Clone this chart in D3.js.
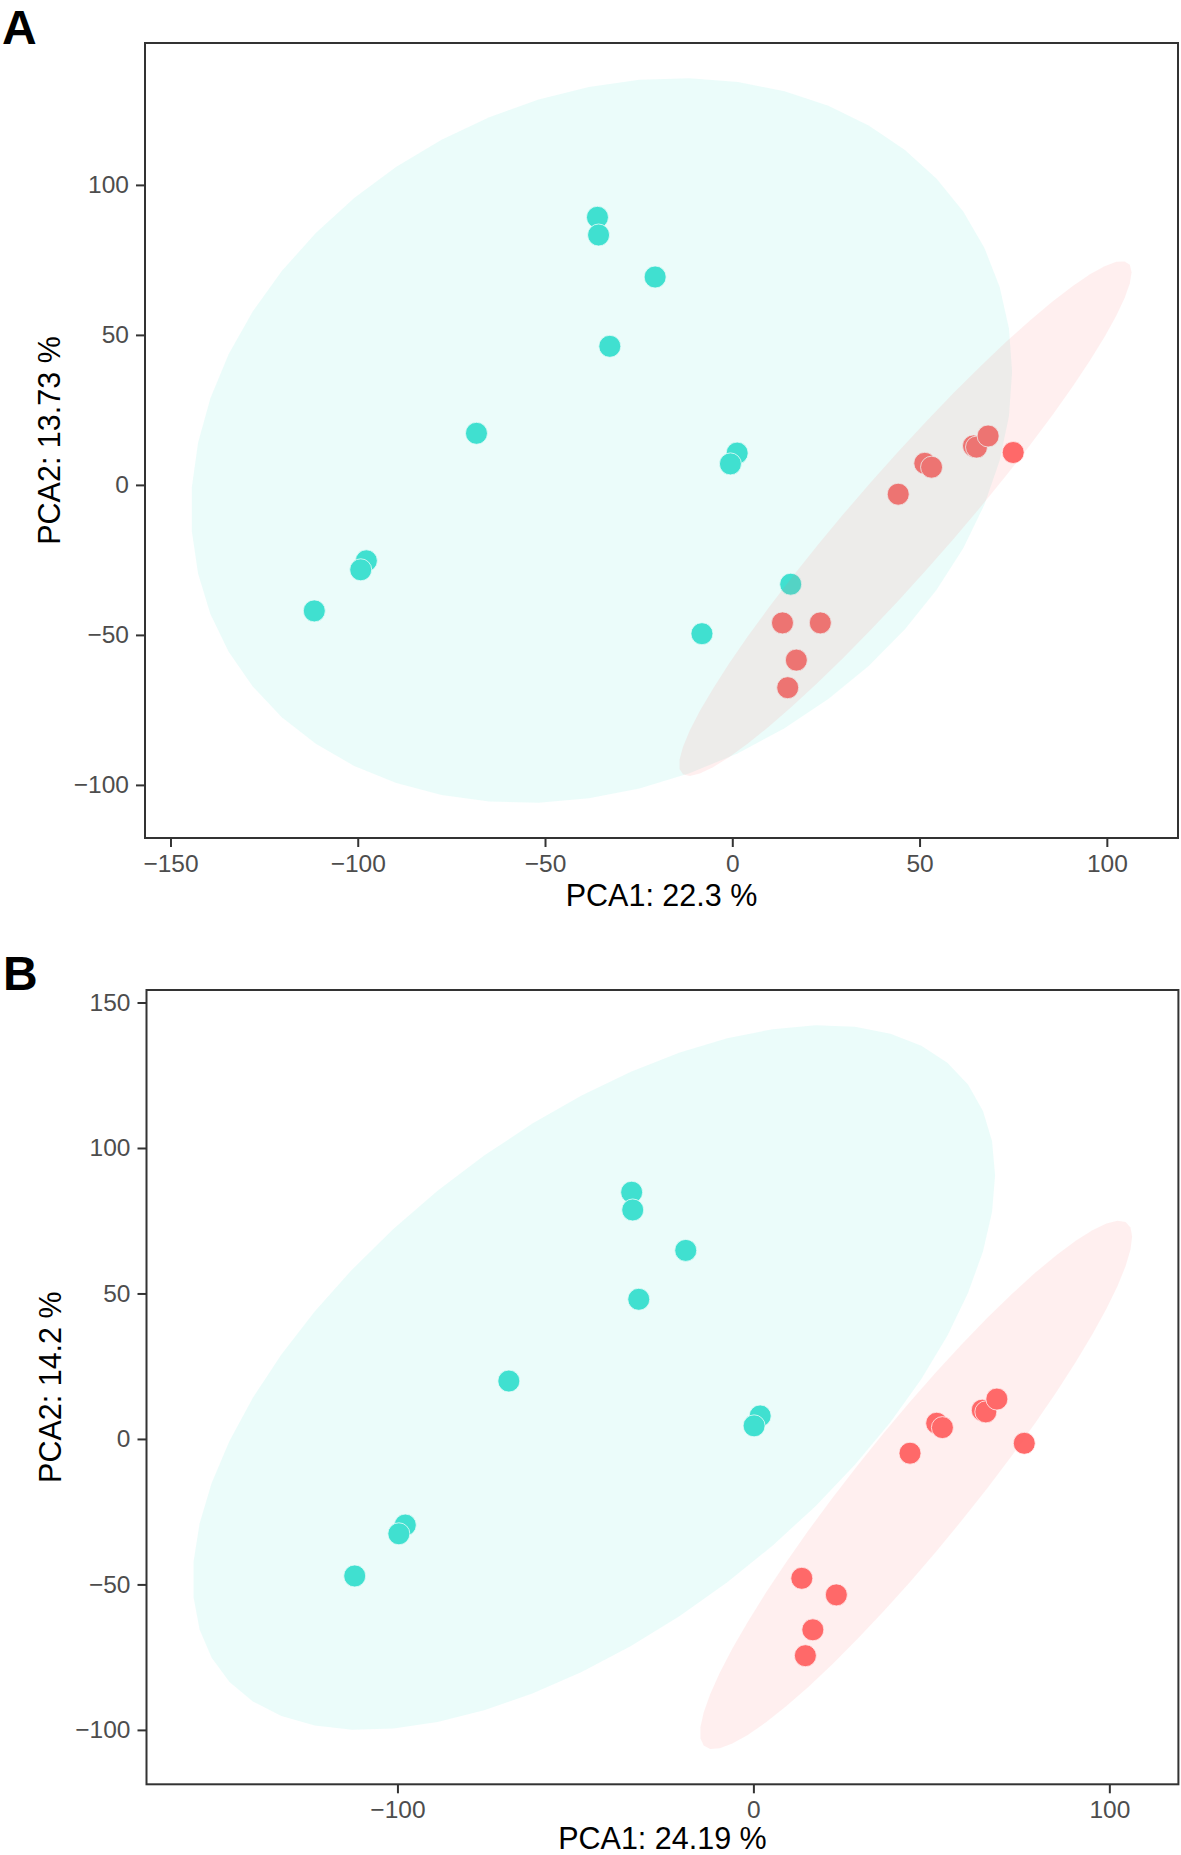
<!DOCTYPE html>
<html>
<head>
<meta charset="utf-8">
<script src="https://cdn.jsdelivr.net/npm/d3@7"></script>
<style>
  html, body { margin: 0; padding: 0; background: #ffffff; }
  svg { display: block; font-family: "Liberation Sans", Arial, Helvetica, sans-serif; }
</style>
</head>
<body>
<svg id="chart" width="1181" height="1855"></svg>
<script>
// ---------------- DATA ----------------
const panelLabels = ["A", "B"];
const groups = ["cyan", "red"];
const groupColors = ["#40E0D0", "#FF6A6A"];

// Panel A
const xTitleA = "PCA1: 22.3 %";
const yTitleA = "PCA2: 13.73 %";
const xTicksA = [-150, -100, -50, 0, 50, 100];
const yTicksA = [-100, -50, 0, 50, 100];
const xDomainA = [-156.8, 119.0];
const yDomainA = [-117.7, 147.3];
const cyanAx = [-36.0, -35.7, -20.6, -32.7, -68.3, -97.7, -99.2, -111.6, 1.3, -0.5, 15.6, -8.1];
const cyanAy = [89.2, 83.3, 69.3, 46.2, 17.2, -25.3, -28.3, -42.0, 10.6, 7.0, -33.1, -49.6];
const redAx = [44.3, 51.4, 53.2, 64.4, 65.2, 68.3, 75.0, 13.4, 23.5, 17.1, 14.8];
const redAy = [-3.1, 7.2, 5.9, 13.0, 12.6, 16.3, 10.8, -46.0, -46.0, -58.4, -67.6];
// ellipse: [centerX, centerY, halfWidthX, halfHeightY, correlation]
const ellipseCyanA = [-34.9, 14.8, 109.6, 120.8, 0.19];
const ellipseRedA = [46.2, -11.2, 60.4, 85.8, 0.957];

// Panel B
const xTitleB = "PCA1: 24.19 %";
const yTitleB = "PCA2: 14.2 %";
const xTicksB = [-100, 0, 100];
const yTicksB = [-100, -50, 0, 50, 100, 150];
const xDomainB = [-170.5, 119.4];
const yDomainB = [-118.7, 154.3];
const cyanBx = [-34.2, -33.9, -19.0, -32.2, -68.7, -97.8, -99.6, -112.0, 1.9, 0.2];
const cyanBy = [84.8, 78.7, 64.8, 48.0, 19.9, -29.6, -32.6, -47.1, 7.9, 4.5];
const redBx = [44.0, 51.5, 53.1, 64.3, 65.3, 68.4, 76.1, 13.6, 23.3, 16.7, 14.6];
const redBy = [-4.9, 5.4, 3.9, 9.9, 9.3, 13.7, -1.5, -47.9, -53.6, -65.6, -74.5];
const ellipseCyanB = [-44.8, 21.1, 112.7, 121.1, 0.5745];
const ellipseRedB = [45.7, -15.8, 60.7, 90.8, 0.94];

// ---------------- DRAW ----------------
const svg = d3.select("#chart");
const FONT_TICK = 24.5, FONT_TITLE = 30.5, FONT_LABEL = 48;

function ellipsePoints(e, n) {
  const [cx, cy, sx, sy, r] = e;
  const s = Math.sqrt(1 - r * r);
  return d3.range(n + 1).map(i => {
    const t = 2 * Math.PI * i / n;
    return [cx + sx * Math.cos(t), cy + sy * (r * Math.cos(t) + s * Math.sin(t))];
  });
}

function drawPanel(cfg, idx) {
  const { left, right, top, bottom } = cfg.box;
  const x = d3.scaleLinear().domain(cfg.xDomain).range([left, right]);
  const y = d3.scaleLinear().domain(cfg.yDomain).range([bottom, top]);
  const g = svg.append("g");

  const clipId = "clip" + idx;
  g.append("clipPath").attr("id", clipId)
    .append("rect").attr("x", left).attr("y", top)
    .attr("width", right - left).attr("height", bottom - top);

  const plot = g.append("g").attr("clip-path", `url(#${clipId})`);

  // points
  const series = [
    { xs: cfg.cyanX, ys: cfg.cyanY, color: groupColors[0] },
    { xs: cfg.redX, ys: cfg.redY, color: groupColors[1] }
  ];
  series.forEach(s => {
    plot.append("g").selectAll("circle")
      .data(s.xs.map((v, i) => [v, s.ys[i]]))
      .join("circle")
      .attr("cx", d => x(d[0]))
      .attr("cy", d => y(d[1]))
      .attr("r", 11)
      .attr("fill", s.color)
      .attr("stroke", "#ffffff")
      .attr("stroke-width", 0.8);
  });

  // ellipses (drawn over the points, translucent)
  const line = d3.line().x(d => x(d[0])).y(d => y(d[1]));
  [cfg.ellipseCyan, cfg.ellipseRed].forEach((e, i) => {
    plot.append("path")
      .attr("d", line(ellipsePoints(e, 51)) + "Z")
      .attr("fill", groupColors[i])
      .attr("fill-opacity", 0.105)
      .attr("stroke", "none");
  });

  // axes
  const xAxis = d3.axisBottom(x).tickValues(cfg.xTicks).tickSize(9).tickPadding(7.6)
    .tickFormat(d3.format("d"));
  const yAxis = d3.axisLeft(y).tickValues(cfg.yTicks).tickSize(9).tickPadding(7)
    .tickFormat(d3.format("d"));

  const gx = g.append("g").attr("transform", `translate(0,${bottom})`).call(xAxis);
  const gy = g.append("g").attr("transform", `translate(${left},0)`).call(yAxis);
  [gx, gy].forEach(a => {
    a.select(".domain").remove();
    a.selectAll(".tick line").attr("stroke", "#333333").attr("stroke-width", 2);
    a.selectAll(".tick text")
      .attr("fill", "#4D4D4D")
      .style("font-size", FONT_TICK + "px")
      .style("font-family", '"Liberation Sans", Arial, Helvetica, sans-serif');
  });

  // panel border
  g.append("rect")
    .attr("x", left).attr("y", top)
    .attr("width", right - left).attr("height", bottom - top)
    .attr("fill", "none").attr("stroke", "#333333").attr("stroke-width", 2);

  // axis titles
  g.append("text")
    .attr("x", (left + right) / 2).attr("y", cfg.xTitleY)
    .attr("text-anchor", "middle")
    .style("font-size", FONT_TITLE + "px")
    .attr("fill", "#000000")
    .text(cfg.xTitle);
  g.append("text")
    .attr("transform", `translate(${cfg.yTitleX},${(top + bottom) / 2}) rotate(-90)`)
    .attr("text-anchor", "middle")
    .style("font-size", FONT_TITLE + "px")
    .attr("fill", "#000000")
    .text(cfg.yTitle);

  // panel label
  g.append("text")
    .attr("x", cfg.labelX).attr("y", cfg.labelY)
    .style("font-size", FONT_LABEL + "px")
    .style("font-weight", "bold")
    .attr("fill", "#000000")
    .text(cfg.label);
}

drawPanel({
  box: { left: 145, right: 1178, top: 43, bottom: 838 },
  xDomain: xDomainA, yDomain: yDomainA,
  xTicks: xTicksA, yTicks: yTicksA,
  cyanX: cyanAx, cyanY: cyanAy, redX: redAx, redY: redAy,
  ellipseCyan: ellipseCyanA, ellipseRed: ellipseRedA,
  xTitle: xTitleA, yTitle: yTitleA,
  xTitleY: 906, yTitleX: 59.5,
  label: panelLabels[0], labelX: 2, labelY: 44
}, 0);

drawPanel({
  box: { left: 146.5, right: 1178.4, top: 990, bottom: 1784.3 },
  xDomain: xDomainB, yDomain: yDomainB,
  xTicks: xTicksB, yTicks: yTicksB,
  cyanX: cyanBx, cyanY: cyanBy, redX: redBx, redY: redBy,
  ellipseCyan: ellipseCyanB, ellipseRed: ellipseRedB,
  xTitle: xTitleB, yTitle: yTitleB,
  xTitleY: 1848.5, yTitleX: 60.5,
  label: panelLabels[1], labelX: 3, labelY: 990
}, 1);
</script>
</body>
</html>
